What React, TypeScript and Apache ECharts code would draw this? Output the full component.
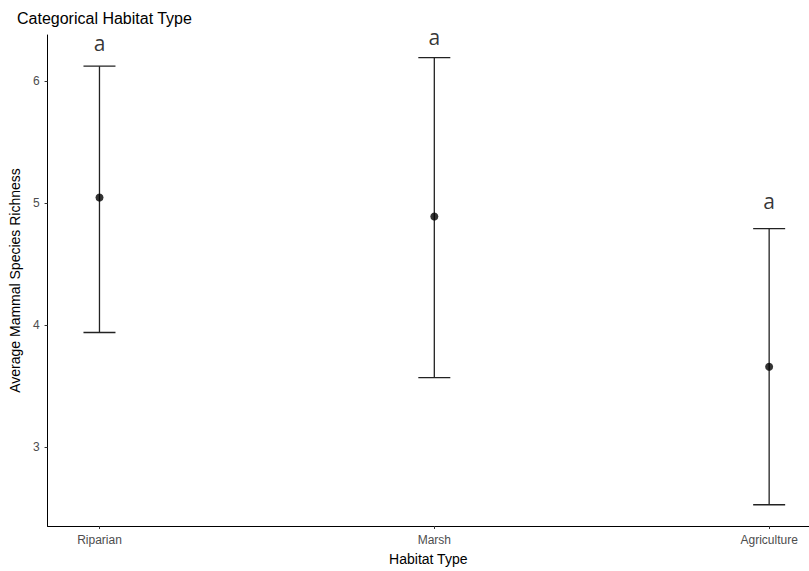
import React, { useEffect, useRef } from "react";
import * as echarts from "echarts";

const categories = ["Riparian", "Marsh", "Agriculture"];
const means = [5.045, 4.89, 3.66];
const upper = [6.12, 6.19, 4.79];
const lower = [3.94, 3.57, 2.53];
const sigLetters = ["a", "a", "a"];
const letterY = [6.31, 6.36, 5.02];
const yTicks = [3, 4, 5, 6];

export default function App() {
  const ref = useRef<HTMLDivElement>(null);
  useEffect(() => {
    if (!ref.current) return;
    const chart = echarts.init(ref.current, null, { renderer: "svg" });
    const errData = categories.map((_, i) => [i, lower[i], upper[i]]);
    const option: any = {
      animation: false,
      backgroundColor: "#ffffff",
      textStyle: { fontFamily: "Liberation Sans, Arial, sans-serif" },
      title: {
        text: "Categorical Habitat Type",
        left: 12,
        top: 5,
        textStyle: { fontSize: 16, fontWeight: "normal", color: "#000" },
      },
      grid: { left: 45, right: 0, top: 35, bottom: 43 },
      xAxis: {
        type: "value",
        min: -0.155,
        max: 2.119,
        name: "Habitat Type",
        nameLocation: "middle",
        nameGap: 26,
        nameTextStyle: { fontSize: 14, color: "#000" },
        axisLine: { show: true, onZero: false, lineStyle: { color: "#000", width: 1 } },
        axisTick: { show: true, length: 3, customValues: [0, 1, 2], lineStyle: { color: "#333" } },
        axisLabel: {
          customValues: [0, 1, 2],
          formatter: (v: number) => categories[Math.round(v)] ?? "",
          color: "#4d4d4d",
          fontSize: 12,
          margin: 8,
        },
        splitLine: { show: false },
      },
      yAxis: {
        type: "value",
        min: 2.356,
        max: 6.375,
        name: "Average Mammal Species Richness",
        nameLocation: "middle",
        nameGap: 24,
        nameTextStyle: { fontSize: 14, color: "#000" },
        axisLine: { show: true, onZero: false, lineStyle: { color: "#000", width: 1 } },
        axisTick: { show: true, length: 3, customValues: yTicks, lineStyle: { color: "#333" } },
        axisLabel: { customValues: yTicks, color: "#4d4d4d", fontSize: 12, margin: 8 },
        splitLine: { show: false },
      },
      series: [
        {
          type: "custom",
          data: errData,
          renderItem: (params: any, api: any) => {
            const x = api.value(0);
            const lo = api.coord([x, api.value(1)]);
            const hi = api.coord([x, api.value(2)]);
            const hw = 16;
            const style = { stroke: "#222", lineWidth: 1.3 };
            return {
              type: "group",
              children: [
                { type: "line", shape: { x1: hi[0], y1: hi[1], x2: lo[0], y2: lo[1] }, style },
                { type: "line", shape: { x1: hi[0] - hw, y1: hi[1], x2: hi[0] + hw, y2: hi[1] }, style },
                { type: "line", shape: { x1: lo[0] - hw, y1: lo[1], x2: lo[0] + hw, y2: lo[1] }, style },
              ],
            };
          },
          z: 2,
        },
        {
          type: "scatter",
          data: categories.map((_, i) => [i, means[i]]),
          symbol: "circle",
          symbolSize: 8,
          itemStyle: { color: "#000" },
          z: 3,
        },
        {
          type: "scatter",
          data: categories.map((_, i) => [i, letterY[i], sigLetters[i]]),
          symbolSize: 0,
          label: {
            show: true,
            position: "inside",
            formatter: (p: any) => p.value[2],
            fontSize: 21,
            color: "#000",
            fontFamily: "Open Sans, sans-serif",
          },
          z: 4,
        },
      ],
    };
    chart.setOption(option);
    return () => chart.dispose();
  }, []);
  return <div ref={ref} style={{ position: "absolute", left: 0, top: 0, width: 809, height: 571 }} />;
}
